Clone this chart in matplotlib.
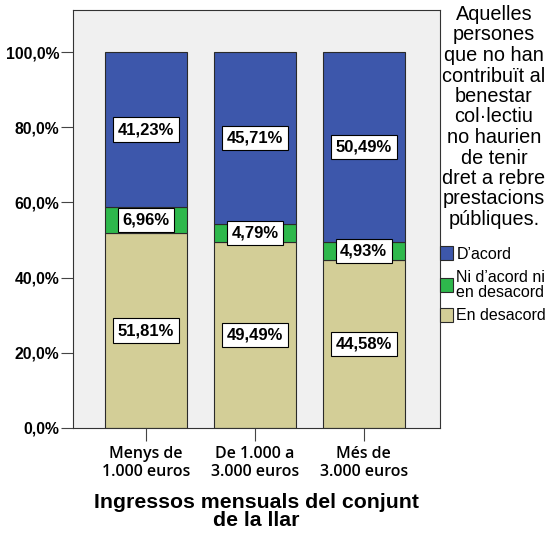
import matplotlib.pyplot as plt
import numpy as np

categories = ['Menys de\n1.000 euros', 'De 1.000 a\n3.000 euros', 'Més de\n3.000 euros']
desacord = [51.81, 49.49, 44.58]
ni_ni = [6.96, 4.79, 4.93]
acord = [41.23, 45.71, 50.49]

series = [
    ('En desacord', desacord, '#D3CE97'),
    ('Ni d\u2019acord ni\nen desacord', ni_ni, '#2EB84C'),
    ('D\u2019acord', acord, '#3D57AB'),
]

plt.rcParams['font.family'] = ['Liberation Sans', 'DejaVu Sans']

fig = plt.figure(figsize=(5.52, 5.38), dpi=100)
ax = fig.add_axes([73 / 552, 1 - 428 / 538, 367 / 552, 418 / 538])
ax.set_facecolor('#F0F0F0')

x = np.arange(len(categories))
bottom = np.zeros(len(categories))
handles = {}
for name, vals, col in series:
    vals = np.array(vals)
    b = ax.bar(x, vals, width=0.75, bottom=bottom, color=col,
               edgecolor='#2a2a2a', linewidth=0.8, zorder=2)
    handles[name] = b
    for xi, v, b0 in zip(x, vals, bottom):
        ax.text(xi, b0 + v / 2, f'{v:.2f}%'.replace('.', ','),
                ha='center', va='center', fontsize=12, fontweight='bold',
                bbox=dict(boxstyle='square,pad=0.28', fc='white', ec='black', lw=0.8),
                zorder=3)
    bottom += vals

ax.set_xlim(-0.67, 2.70)
ax.set_ylim(0, 111.2)
ax.set_yticks([0, 20, 40, 60, 80, 100])
ax.set_yticklabels(['0,0%', '20,0%', '40,0%', '60,0%', '80,0%', '100,0%'],
                   fontsize=11.3, fontweight='bold')
ax.set_xticks(x)
ax.set_xticklabels(categories, fontsize=11.5, family='Open Sans',
                   fontweight='semibold', linespacing=1.2)
ax.tick_params(axis='both', length=9, width=0.8, color='#444444')
ax.tick_params(axis='y', pad=1)
ax.tick_params(axis='x', pad=4)
for s in ax.spines.values():
    s.set_color('#333333')
    s.set_linewidth(0.8)

ax.set_xlabel('Ingressos mensuals del conjunt\nde la llar', fontsize=15.3,
              fontweight='bold', linespacing=0.95, labelpad=9)

fig.text(494 / 552, 1 - 5 / 538,
         'Aquelles\npersones\nque no han\ncontribuït al\nbenestar\ncol\u00b7lectiu\n'
         'no haurien\nde tenir\ndret a rebre\nprestacions\npúbliques.',
         ha='center', va='top', fontsize=14.3, linespacing=1.1)

order = ['D\u2019acord', 'Ni d\u2019acord ni\nen desacord', 'En desacord']
leg = fig.legend([handles[n] for n in order], order, loc='upper left',
                 bbox_to_anchor=(434 / 552, 1 - 240 / 538), frameon=False,
                 prop={'size': 11.5},
                 handlelength=0.8, handleheight=0.95,
                 handletextpad=0.2, labelspacing=0.5, borderaxespad=0)
for t in leg.get_texts():
    t.set_linespacing(1.0)

fig.savefig('out.png', dpi=100)
